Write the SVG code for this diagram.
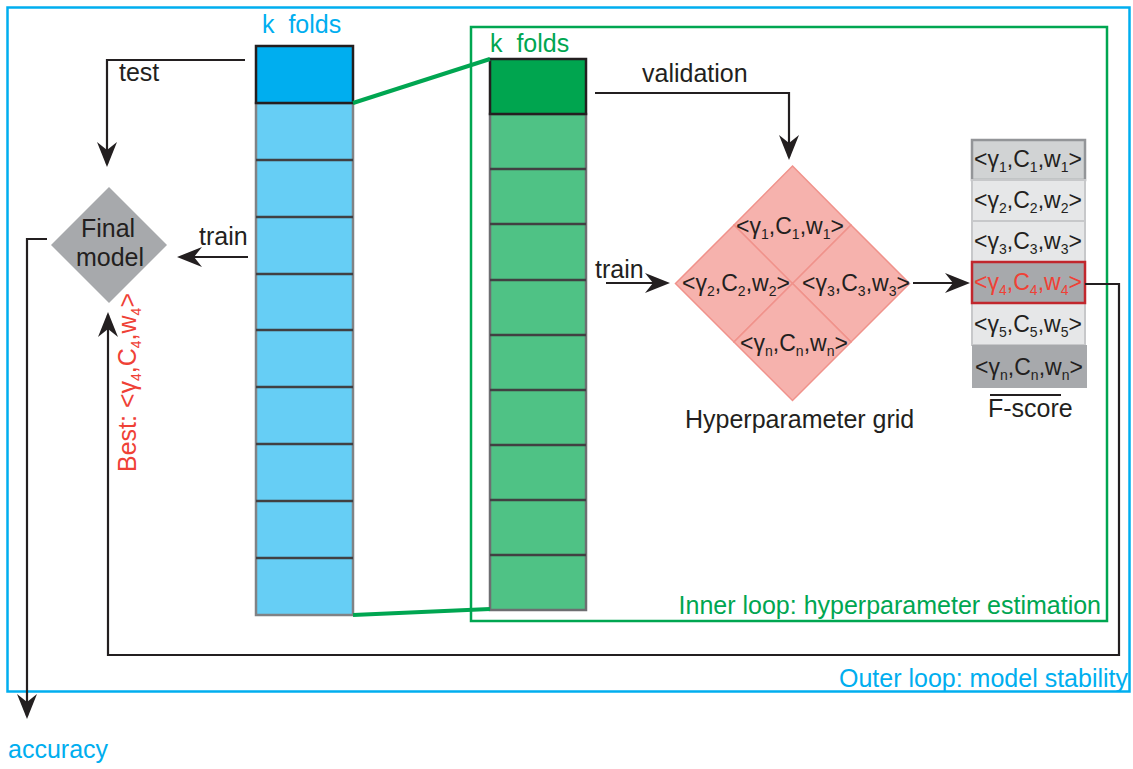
<svg xmlns="http://www.w3.org/2000/svg" width="1133" height="769" viewBox="0 0 1133 769">
<style>
text{font-family:"Liberation Sans",Arial,sans-serif;fill:#231f20}
.t{font-size:25px}
.lab{font-size:23px}
.sub{font-size:14px}
.blue{fill:#00aeef}
.green{fill:#00a651}
.red{fill:#ef4136}
.conn{fill:none;stroke:#231f20;stroke-width:2.2}
.div{stroke:#414042;stroke-width:2.5}
.hp{fill:#f6b2ad;stroke:#f0928b;stroke-width:1.5}
</style>
<defs>
<marker id="ah" viewBox="0 0 25 20" refX="22" refY="10" markerWidth="25" markerHeight="20" markerUnits="userSpaceOnUse" orient="auto">
<path d="M0,0 L25,10 L0,20 L8,10 Z" fill="#231f20"/>
</marker>
</defs>

<g id="outer-loop">
<rect x="7.5" y="7.5" width="1122" height="684" fill="none" stroke="#00aeef" stroke-width="2.5"/>
<text class="t blue" x="1128" y="687" text-anchor="end">Outer loop: model stability</text>
</g>

<g id="inner-loop">
<rect x="471" y="27" width="636" height="594" fill="none" stroke="#00a651" stroke-width="2.5"/>
<text class="t green" x="1101" y="614" text-anchor="end">Inner loop: hyperparameter estimation</text>
</g>

<g id="outer-folds">
<text class="t blue" x="262" y="33" xml:space="preserve">k  folds</text>
<rect x="256" y="103" width="97" height="512" fill="#66cef5" stroke="#808285" stroke-width="2.5"/>
<line class="div" x1="256" y1="160" x2="353" y2="160"/>
<line class="div" x1="256" y1="217" x2="353" y2="217"/>
<line class="div" x1="256" y1="274" x2="353" y2="274"/>
<line class="div" x1="256" y1="330" x2="353" y2="330"/>
<line class="div" x1="256" y1="387" x2="353" y2="387"/>
<line class="div" x1="256" y1="444" x2="353" y2="444"/>
<line class="div" x1="256" y1="501" x2="353" y2="501"/>
<line class="div" x1="256" y1="558" x2="353" y2="558"/>
<rect x="256" y="46" width="97" height="57" fill="#00aeef" stroke="#231f20" stroke-width="2.5"/>
</g>

<g id="inner-folds">
<text class="t green" x="490" y="52" xml:space="preserve">k  folds</text>
<rect x="490" y="114" width="96" height="496" fill="#4fc285" stroke="#6d6e71" stroke-width="2.5"/>
<line class="div" x1="490" y1="169" x2="586" y2="169"/>
<line class="div" x1="490" y1="224" x2="586" y2="224"/>
<line class="div" x1="490" y1="280" x2="586" y2="280"/>
<line class="div" x1="490" y1="335" x2="586" y2="335"/>
<line class="div" x1="490" y1="390" x2="586" y2="390"/>
<line class="div" x1="490" y1="445" x2="586" y2="445"/>
<line class="div" x1="490" y1="500" x2="586" y2="500"/>
<line class="div" x1="490" y1="555" x2="586" y2="555"/>
<rect x="490" y="59" width="96" height="55" fill="#00a54f" stroke="#231f20" stroke-width="2.5"/>
</g>

<g id="final-model">
<polygon points="109,187 167,245 109,303 51,245" fill="#a7a9ac"/>
<text class="t" x="108" y="237" text-anchor="middle">Final</text>
<text class="t" x="110" y="266" text-anchor="middle">model</text>
</g>

<g id="hyperparameter-grid">
<polygon class="hp" points="792.5,166 851,225 792.5,284 734,225"/>
<polygon class="hp" points="734,225 792.5,283.5 734,342 675.5,283.5"/>
<polygon class="hp" points="851,225 909.5,283.5 851,342 792.5,283.5"/>
<polygon class="hp" points="792.5,283.5 851,342 792.5,400.5 734,342"/>
<text class="lab" x="790" y="234" text-anchor="middle">&lt;γ<tspan class="sub" dy="5">1</tspan><tspan dy="-5">,C</tspan><tspan class="sub" dy="5">1</tspan><tspan dy="-5">,w</tspan><tspan class="sub" dy="5">1</tspan><tspan dy="-5">&gt;</tspan></text>
<text class="lab" x="736" y="291" text-anchor="middle">&lt;γ<tspan class="sub" dy="5">2</tspan><tspan dy="-5">,C</tspan><tspan class="sub" dy="5">2</tspan><tspan dy="-5">,w</tspan><tspan class="sub" dy="5">2</tspan><tspan dy="-5">&gt;</tspan></text>
<text class="lab" x="856" y="291" text-anchor="middle">&lt;γ<tspan class="sub" dy="5">3</tspan><tspan dy="-5">,C</tspan><tspan class="sub" dy="5">3</tspan><tspan dy="-5">,w</tspan><tspan class="sub" dy="5">3</tspan><tspan dy="-5">&gt;</tspan></text>
<text class="lab" x="794" y="351" text-anchor="middle">&lt;γ<tspan class="sub" dy="5">n</tspan><tspan dy="-5">,C</tspan><tspan class="sub" dy="5">n</tspan><tspan dy="-5">,w</tspan><tspan class="sub" dy="5">n</tspan><tspan dy="-5">&gt;</tspan></text>
<text class="t" x="685" y="428">Hyperparameter grid</text>
</g>

<g id="f-score">
<rect x="972" y="140" width="113" height="40" fill="#d1d3d4" stroke="#939598" stroke-width="2.5"/>
<rect x="972" y="180" width="113" height="41" fill="#e6e7e8" stroke="#c7c8ca" stroke-width="2"/>
<rect x="972" y="221" width="113" height="41" fill="#e6e7e8" stroke="#c7c8ca" stroke-width="2"/>
<rect x="972" y="303" width="113" height="42" fill="#e6e7e8" stroke="#c7c8ca" stroke-width="2"/>
<rect x="972" y="345" width="115" height="43" fill="#a7a9ac"/>
<rect x="972" y="262" width="113" height="41" fill="#a7a9ac" stroke="#c1272d" stroke-width="2.5"/>
<text class="lab" x="1028" y="167" text-anchor="middle">&lt;γ<tspan class="sub" dy="5">1</tspan><tspan dy="-5">,C</tspan><tspan class="sub" dy="5">1</tspan><tspan dy="-5">,w</tspan><tspan class="sub" dy="5">1</tspan><tspan dy="-5">&gt;</tspan></text>
<text class="lab" x="1028" y="208" text-anchor="middle">&lt;γ<tspan class="sub" dy="5">2</tspan><tspan dy="-5">,C</tspan><tspan class="sub" dy="5">2</tspan><tspan dy="-5">,w</tspan><tspan class="sub" dy="5">2</tspan><tspan dy="-5">&gt;</tspan></text>
<text class="lab" x="1028" y="249" text-anchor="middle">&lt;γ<tspan class="sub" dy="5">3</tspan><tspan dy="-5">,C</tspan><tspan class="sub" dy="5">3</tspan><tspan dy="-5">,w</tspan><tspan class="sub" dy="5">3</tspan><tspan dy="-5">&gt;</tspan></text>
<text class="lab red" x="1028" y="290" text-anchor="middle">&lt;γ<tspan class="sub" dy="5">4</tspan><tspan dy="-5">,C</tspan><tspan class="sub" dy="5">4</tspan><tspan dy="-5">,w</tspan><tspan class="sub" dy="5">4</tspan><tspan dy="-5">&gt;</tspan></text>
<text class="lab" x="1028" y="332" text-anchor="middle">&lt;γ<tspan class="sub" dy="5">5</tspan><tspan dy="-5">,C</tspan><tspan class="sub" dy="5">5</tspan><tspan dy="-5">,w</tspan><tspan class="sub" dy="5">5</tspan><tspan dy="-5">&gt;</tspan></text>
<text class="lab" x="1029" y="375" text-anchor="middle">&lt;γ<tspan class="sub" dy="5">n</tspan><tspan dy="-5">,C</tspan><tspan class="sub" dy="5">n</tspan><tspan dy="-5">,w</tspan><tspan class="sub" dy="5">n</tspan><tspan dy="-5">&gt;</tspan></text>
<line x1="990" y1="395" x2="1061" y2="395" stroke="#231f20" stroke-width="2"/>
<text class="t" x="988" y="417">F-score</text>
</g>

<g id="connectors">
<path d="M353,103 L490,59" stroke="#00a651" stroke-width="4" fill="none"/>
<path d="M353,615 L490,609" stroke="#00a651" stroke-width="4" fill="none"/>
<path class="conn" d="M245,60 H107 V164" marker-end="url(#ah)"/>
<path class="conn" d="M248,257 H180" marker-end="url(#ah)"/>
<path class="conn" d="M1085,284 H1119 V655 H108 V315" marker-end="url(#ah)"/>
<path class="conn" d="M47,239 H27 V716" marker-end="url(#ah)"/>
<path class="conn" d="M595,93 H789 V157" marker-end="url(#ah)"/>
<path class="conn" d="M606,283 H667" marker-end="url(#ah)"/>
<path class="conn" d="M913,283 H967" marker-end="url(#ah)"/>
<text class="t" x="119" y="81">test</text>
<text class="t" x="199" y="245">train</text>
<text class="t" x="595" y="278">train</text>
<text class="t" x="642" y="82">validation</text>
<text class="t blue" x="8" y="758">accuracy</text>
<text class="t red" transform="translate(136,472) rotate(-90)">Best: &lt;γ<tspan class="sub" dy="5">4</tspan><tspan dy="-5">,C</tspan><tspan class="sub" dy="5">4</tspan><tspan dy="-5">,w</tspan><tspan class="sub" dy="5">4</tspan><tspan dy="-5">&gt;</tspan></text>
</g>
</svg>
